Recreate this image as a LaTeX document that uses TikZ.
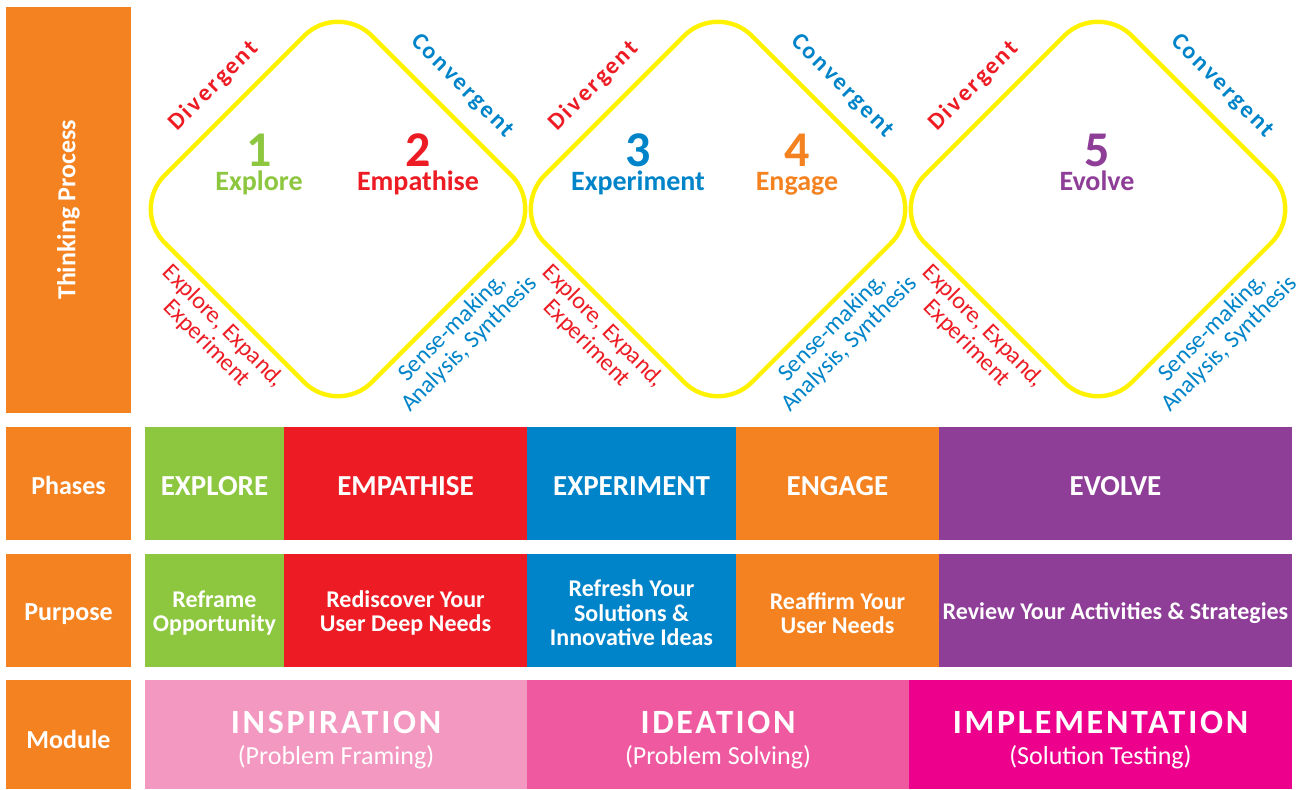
\documentclass[tikz,border=0pt]{standalone}
\usepackage{fontspec}
\setmainfont{Carlito}
\usetikzlibrary{shapes.geometric}
\definecolor{orng}{RGB}{244,130,32}
\definecolor{grn}{RGB}{141,198,63}
\definecolor{rd}{RGB}{237,28,36}
\definecolor{blu}{RGB}{0,132,201}
\definecolor{prp}{RGB}{142,62,151}
\definecolor{pnkA}{RGB}{243,152,192}
\definecolor{pnkB}{RGB}{239,89,160}
\definecolor{pnkC}{RGB}{236,0,140}
\definecolor{ylw}{RGB}{255,242,0}
\tikzset{
  dmd/.style={draw=ylw, line width=2.2pt, shape=diamond, minimum width=208pt, minimum height=208pt, inner sep=0pt, rounded corners=24pt},
  dvg/.style={text=rd, font=\bfseries\fontsize{12}{13}\selectfont\addfontfeature{LetterSpace=10}, rotate=45},
  cvg/.style={text=blu, font=\bfseries\fontsize{12}{13}\selectfont\addfontfeature{LetterSpace=10}, rotate=-45},
  lowtxt/.style={font=\fontsize{12}{12}\selectfont, align=center, inner sep=0pt},
  num/.style={font=\bfseries\fontsize{25}{25}\selectfont, anchor=base, inner sep=0pt},
  word/.style={font=\bfseries\fontsize{14}{15}\selectfont, anchor=base, inner sep=0pt},
  side/.style={text=white, font=\bfseries\fontsize{13}{15}\selectfont},
  phs/.style={text=white, font=\bfseries\fontsize{14.5}{16}\selectfont, anchor=base},
  pur/.style={text=white, font=\bfseries\fontsize{12}{12.3}\selectfont, align=center},
  modt/.style={text=white, font=\bfseries\fontsize{17}{18}\selectfont\addfontfeature{LetterSpace=8}, anchor=base},
  mods/.style={text=white, font=\fontsize{13}{15}\selectfont, anchor=base}
}
\begin{document}
\begin{tikzpicture}[x=0.5pt,y=-0.5pt]
\useasboundingbox (0,0) rectangle (1300,789);
% left column
\fill[orng] (6,7) rectangle (131,413);
\fill[orng] (6,427) rectangle (131,540);
\fill[orng] (6,554) rectangle (131,667);
\fill[orng] (6,680) rectangle (131,789);
\node[side, rotate=90] (tp) at (68.5,210) {Thinking Process};
\node[side, anchor=base] (phs) at (68.5,494) {Phases};
\node[side] (pps) at (68.5,614) {Purpose};
\node[side] (mdl) at (68.5,739) {Module};
% thinking process
\foreach \cx [count=\i] in {338,718,1098} {
\node[dmd] (d\i) at (\cx,209) {};
\node[dvg] (dv\i) at (\cx-124,86) {Divergent};
\node[cvg] (cv\i) at (\cx+124,86) {Convergent};
\node[lowtxt, text=rd, rotate=-45] (ex\i) at (\cx-123,335) {Explore, Expand,\\Experiment};
\node[lowtxt, text=blu, rotate=45] (sm\i) at (\cx+123,336) {Sense-making,\\Analysis, Synthesis};}
\foreach \x/\n/\c/\w in {259/1/grn/Explore, 418/2/rd/Empathise, 638/3/blu/Experiment, 797/4/orng/Engage, 1097/5/prp/Evolve} {
\node[num, text=\c] (n\n) at (\x,166) {\n};
\node[word, text=\c] (w\n) at (\x,190) {\w};}
% phases and purpose
\foreach \xa/\xb/\c/\ph/\pu [count=\i] in {145/284/grn/EXPLORE/Reframe\\Opportunity, 284/527/rd/EMPATHISE/Rediscover Your\\User Deep Needs, 527/736/blu/EXPERIMENT/Refresh Your\\Solutions \&\\Innovative Ideas, 736/939/orng/ENGAGE/Reaffirm Your\\User Needs, 939/1292/prp/EVOLVE/Review Your Activities \& Strategies} {
\fill[\c] (\xa,427) rectangle (\xb,540);
\fill[\c] (\xa,554) rectangle (\xb,667);
\node[phs] (ph\i) at ({(\xa+\xb)/2},495) {\ph};
\node[pur] (pu\i) at ({(\xa+\xb)/2},613) {\pu};}
% modules
\foreach \xa/\xb/\c/\mt/\ms [count=\i] in {145/527/pnkA/INSPIRATION/(Problem Framing), 527/909/pnkB/IDEATION/(Problem Solving), 909/1292/pnkC/IMPLEMENTATION/(Solution Testing)} {
\fill[\c] (\xa,680) rectangle (\xb,789);
\node[modt] (mt\i) at ({(\xa+\xb)/2},733) {\mt};
\node[mods] (ms\i) at ({(\xa+\xb)/2},764) {\ms};}
\end{tikzpicture}
\end{document}
